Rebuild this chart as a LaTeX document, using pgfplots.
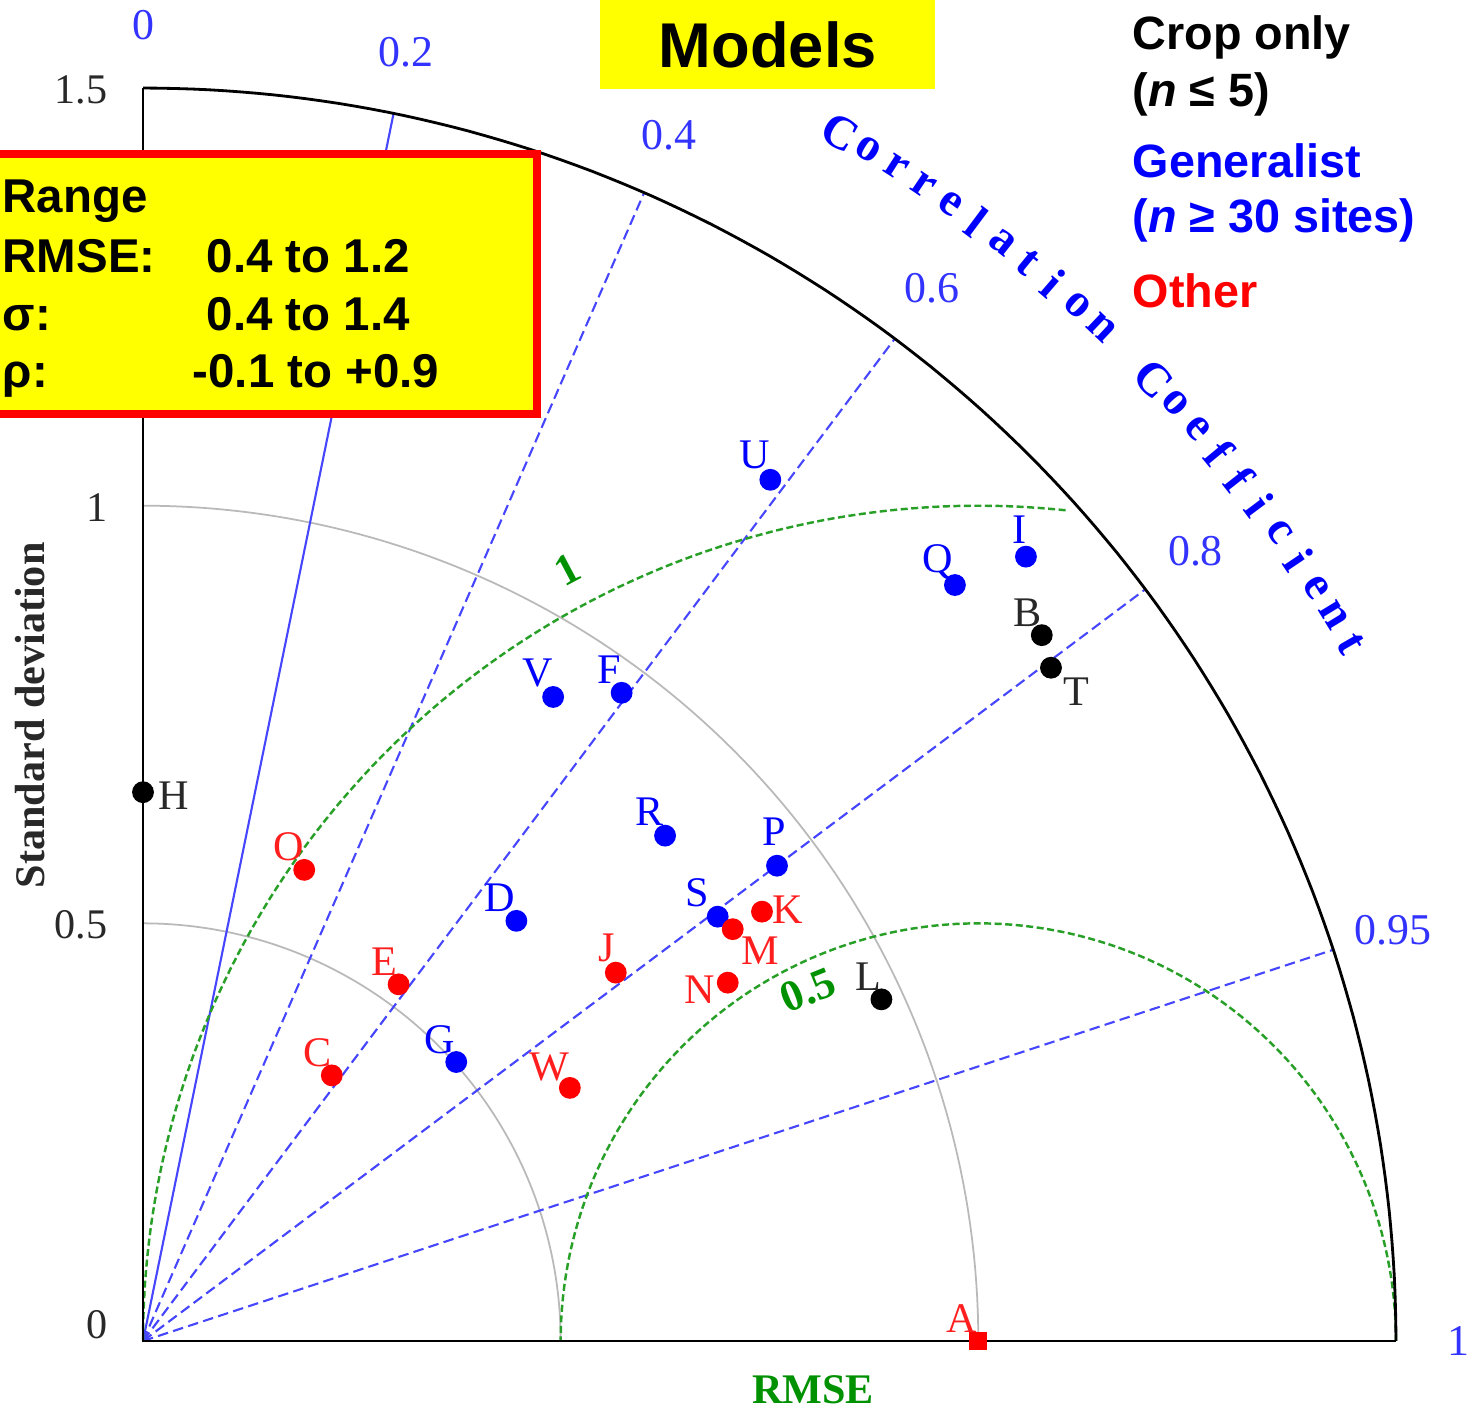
\documentclass[border=0pt]{standalone}
\usepackage{fontspec}
\setmainfont{Liberation Serif}
\newfontfamily\hv{Liberation Sans}
\usepackage{pgfplots}
\usepackage{pgfplotstable}
\pgfplotsset{compat=1.18}

\definecolor{pblue}{RGB}{0,0,255}
\definecolor{pred}{RGB}{255,0,0}
\definecolor{lred}{RGB}{255,30,30}
\definecolor{lblue}{RGB}{70,70,255}
\definecolor{tgreen}{RGB}{0,145,0}
\definecolor{agreen}{RGB}{40,160,40}
\definecolor{ylw}{RGB}{255,255,0}
\definecolor{tick}{RGB}{40,40,40}

\pgfplotstableread{
x y label dx dy
0.751 1.031 U -4.3 7.1
1.057 0.939 I -1.7 7.7
0.972 0.905 Q -4.8 6.5
0.491 0.771 V -4.3 6.8
0.573 0.776 F -3.4 6.5
0.625 0.605 R -4.3 6.8
0.759 0.569 P -0.9 9.7
0.688 0.508 S -5.7 6.8
0.447 0.503 D -4.6 6.5
0.375 0.334 G -4.6 6.3
}\generalist

\pgfplotstableread{
x y label dx dy
0.193 0.564 O -4.3 6.5
0.306 0.427 E -4.0 6.3
0.226 0.318 C -4.0 6.5
0.566 0.441 J -2.6 7.1
0.511 0.303 W -5.7 6.0
0.741 0.514 K 7.4 0.6
0.706 0.493 M 7.7 -6.0
0.700 0.429 N -8.0 -2.0
}\other

\pgfplotstableread{
x y label dx dy
1.000 0.000 A -4.8 6.5
}\reference

\pgfplotstableread{
x y label dx dy
0.000 0.657 H 8.8 -0.9
1.076 0.845 B -4.0 6.5
1.087 0.806 T 7.1 -6.8
0.884 0.409 L -3.7 6.5
}\crop

\tikzset{
  corrlbl/.style={font=\fontsize{12.5}{14}\selectfont, text=pblue!80!white},
  ticklbl/.style={font=\fontsize{12}{14}\selectfont, text=tick, anchor=east},
  ptlbl/.style={font=\fontsize{12}{14}\selectfont},
  boxtxt/.style={font=\hv\bfseries\fontsize{13.5}{15}\selectfont, anchor=base west, inner sep=0pt},
  corrtxt/.style={font=\bfseries\fontsize{13.5}{14}\selectfont, text=pblue, inner sep=0pt},
  lgd/.style={font=\hv\bfseries\fontsize{13.3}{15}\selectfont, anchor=base west, inner sep=0pt},
}
\pgfplotsset{
  lbls/.style={point meta=explicit symbolic, nodes near coords,
    visualization depends on={\thisrow{dx}\as\dx},
    visualization depends on={\thisrow{dy}\as\dy},
    every node near coord/.append style={ptlbl, anchor=center, inner sep=0pt, text=#1, xshift=\dx pt, yshift=\dy pt}},
}

\begin{document}
\begin{tikzpicture}
\begin{axis}[
  width=14.77cm, height=14.11cm, scale only axis,
  xmin=-0.1712, xmax=1.5970, ymin=-0.0838, ymax=1.6054,
  hide axis, clip=false,
]
\coordinate (SW) at (rel axis cs:0,0);
\coordinate (NE) at (rel axis cs:1,1);
\coordinate (O) at (axis cs:0,0);

% standard deviation arcs
\addplot[gray!55, line width=0.5pt, variable=\t, domain=0:90, samples=91] ({0.5*cos(\t)},{0.5*sin(\t)});
\addplot[gray!55, line width=0.5pt, variable=\t, domain=0:90, samples=91] ({cos(\t)},{sin(\t)});

% correlation lines
\addplot[lblue, line width=0.6pt] coordinates {(0,0) (0.3,1.4697)};
\addplot[lblue, line width=0.6pt, dash pattern=on 3pt off 1.5pt] coordinates {(0,0) (0.6,1.3748)};
\addplot[lblue, line width=0.6pt, dash pattern=on 3pt off 1.5pt] coordinates {(0,0) (0.9,1.2)};
\addplot[lblue, line width=0.6pt, dash pattern=on 3pt off 1.5pt] coordinates {(0,0) (1.2,0.9)};
\addplot[lblue, line width=0.6pt, dash pattern=on 3pt off 1.5pt] coordinates {(0,0) (1.425,0.4684)};

% RMSE arcs
\addplot[agreen, line width=0.7pt, dash pattern=on 2pt off 1pt, variable=\t, domain=0:180, samples=121] ({1+0.5*cos(\t)},{0.5*sin(\t)});
\addplot[agreen, line width=0.7pt, dash pattern=on 2pt off 1pt, variable=\t, domain=84:180, samples=121] ({1+cos(\t)},{sin(\t)});

% axes and outer arc
\addplot[black, line width=0.8pt] coordinates {(0,1.5) (0,0) (1.5,0)};
\addplot[black, line width=0.8pt, variable=\t, domain=0:90, samples=121] ({1.5*cos(\t)},{1.5*sin(\t)});

% tick labels
\node[ticklbl] at (axis cs:-0.028,1.4977) {1.5};
\node[ticklbl] at (axis cs:-0.028,0.998) {1};
\node[ticklbl] at (axis cs:-0.028,0.498) {0.5};
\node[ticklbl] at (axis cs:-0.028,0.019) {0};

% correlation labels
\node[corrlbl] at (axis cs:0,1.575) {0};
\node[corrlbl] at (axis cs:0.315,1.5432) {0.2};
\node[corrlbl] at (axis cs:0.63,1.4435) {0.4};
\node[corrlbl] at (axis cs:0.945,1.26) {0.6};
\node[corrlbl] at (axis cs:1.26,0.945) {0.8};
\node[corrlbl] at (axis cs:1.4963,0.4918) {0.95};
\node[corrlbl] at (axis cs:1.575,0) {1};

% RMSE contour labels
\node[font=\bfseries\fontsize{12.5}{13}\selectfont, text=tgreen, rotate=28] at (axis cs:0.5076,0.923) {1};
\node[font=\bfseries\fontsize{12.5}{13}\selectfont, text=tgreen, rotate=22] at (axis cs:0.796,0.420) {0.5};

% axis titles
\node[font=\bfseries\fontsize{12}{13}\selectfont, text=tick, rotate=90] at (axis cs:-0.1353,0.749) {Standard deviation};
\node[font=\bfseries\fontsize{12}{13}\selectfont, text=tgreen] at (axis cs:0.802,-0.0587) {RMSE};

% data
\addplot[only marks, mark=*, mark size=2.9pt, color=pblue, lbls=pblue]
  table[x=x, y=y, meta=label] {\generalist};
\addplot[only marks, mark=*, mark size=2.9pt, color=pred, lbls=lred]
  table[x=x, y=y, meta=label] {\other};
\addplot[only marks, mark=square*, mark size=2.4pt, color=pred, lbls=lred]
  table[x=x, y=y, meta=label] {\reference};
\addplot[only marks, mark=*, mark size=2.9pt, color=black, lbls=tick]
  table[x=x, y=y, meta=label] {\crop};

% Models title
\fill[ylw] (axis cs:0.547,1.4989) rectangle (axis cs:0.948,1.62);
\node[font=\hv\bfseries\fontsize{18}{20}\selectfont, anchor=base, inner sep=0pt] at (axis cs:0.748,1.525) {Models};

% Range box
\draw[pred, line width=2.3pt, fill=ylw] (axis cs:-0.19,1.1098) rectangle (axis cs:0.4718,1.4211);
\node[boxtxt] at (axis cs:-0.1688,1.3504) {Range};
\node[boxtxt] at (axis cs:-0.1688,1.2797) {RMSE:};
\node[boxtxt] at (axis cs:-0.1688,1.2103) {σ:};
\node[boxtxt] at (axis cs:-0.1688,1.1409) {ρ:};
\node[boxtxt] at (axis cs:0.0754,1.2797) {0.4 to 1.2};
\node[boxtxt] at (axis cs:0.0754,1.2103) {0.4 to 1.4};
\node[boxtxt] at (axis cs:0.0587,1.1409) {-0.1 to +0.9};

% legend
\node[lgd] at (axis cs:1.184,1.5456) {Crop only};
\node[lgd] at (axis cs:1.184,1.4773) {(\textit{n} ≤ 5)};
\node[lgd, text=pblue] at (axis cs:1.184,1.3923) {Generalist};
\node[lgd, text=pblue] at (axis cs:1.184,1.3265) {(\textit{n} ≥ 30 sites)};
\node[lgd, text=pred] at (axis cs:1.184,1.2367) {Other};
\end{axis}

% curved "Correlation Coefficient"
\begin{scope}[shift={(O)}]
\foreach \ch/\a in {C/60.0, o/58.66, r/57.32, r/55.98, e/54.64, l/53.3, a/51.96, t/50.62, i/49.28, o/47.94, n/46.6,
  C/43.6, o/42.24, e/40.88, f/39.52, f/38.16, i/36.8, c/35.44, i/34.08, e/32.72, n/31.36, t/30.0}
  \node[corrtxt, rotate=\a-90] at (\a:13.95cm) {\ch};
\end{scope}

\pgfresetboundingbox
\path (SW) rectangle (NE);
\end{tikzpicture}
\end{document}
